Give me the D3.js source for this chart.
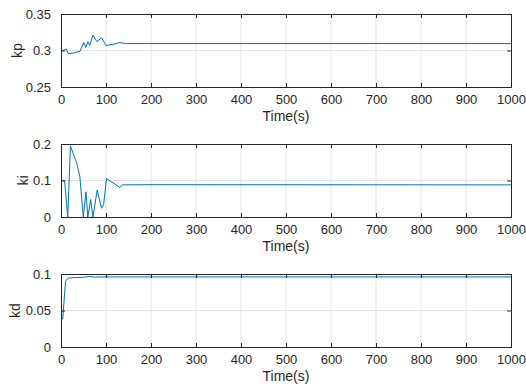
<!DOCTYPE html>
<html>
<head>
<meta charset="utf-8">
<script src="https://cdn.jsdelivr.net/npm/d3@7"></script>
<style>
  body { margin: 0; background: #fff; }
  text { font-family: "Liberation Sans", Arial, sans-serif; fill: #262626; }
</style>
</head>
<body>
<div id="chart"></div>
<script>
// time axis ticks shared by all panels
const xTicks = [0, 100, 200, 300, 400, 500, 600, 700, 800, 900, 1000]

// kp gain over time
const kpTime  = [0, 5, 12, 16, 28, 42, 51, 55, 60, 64, 71, 80, 90, 100, 109, 120, 131, 143, 200, 1000]
const kpValue = [0.300, 0.3003, 0.302, 0.2956, 0.2965, 0.299, 0.311, 0.304, 0.312, 0.307, 0.321, 0.312, 0.3175, 0.307, 0.3078, 0.309, 0.311, 0.3095, 0.3095, 0.3095]

// ki gain over time
const kiTime  = [0, 8, 15, 21, 27, 35, 42, 49.6, 55.5, 59.5, 66, 71, 80.5, 90, 95, 101, 131, 137, 200, 1000]
const kiValue = [0.100, 0.100, 0, 0.195, 0.174, 0.147, 0.11, 0, 0.069, 0, 0.048, 0, 0.074, 0.024, 0.036, 0.105, 0.081, 0.088, 0.0885, 0.088]

// kd gain over time
const kdTime  = [0, 4, 10, 16, 27, 50, 64, 75, 100, 1000]
const kdValue = [0.039, 0.039, 0.090, 0.0945, 0.095, 0.0955, 0.0966, 0.0958, 0.096, 0.096]

const panels = [
  { label: "kp", t: kpTime, v: kpValue, domain: [0.25, 0.35], ticks: [0.25, 0.3, 0.35], top: 14, labelX: 17 },
  { label: "ki", t: kiTime, v: kiValue, domain: [0, 0.2], ticks: [0, 0.1, 0.2], top: 144, labelX: 23 },
  { label: "kd", t: kdTime, v: kdValue, domain: [0, 0.1], ticks: [0, 0.05, 0.1], top: 274, labelX: 15 }
]

const width = 526, height = 390
const left = 61, right = 511, plotH = 73

const svg = d3.select("#chart").append("svg")
  .attr("width", width)
  .attr("height", height)

const x = d3.scaleLinear().domain([0, 1000]).range([left, right])
const fmt = d => String(+d.toFixed(3))

panels.forEach(function(p) {
  let y = d3.scaleLinear().domain(p.domain).range([p.top + plotH, p.top])
  let g = svg.append("g")

  // grid
  g.selectAll(".vgrid").data(xTicks.slice(1, -1)).enter().append("line")
    .attr("x1", d => x(d)).attr("x2", d => x(d))
    .attr("y1", p.top).attr("y2", p.top + plotH)
    .style("stroke", "#e3e3e3").style("stroke-width", 1)
  g.selectAll(".hgrid").data(p.ticks.slice(1, -1)).enter().append("line")
    .attr("x1", left).attr("x2", right)
    .attr("y1", d => y(d)).attr("y2", d => y(d))
    .style("stroke", "#e3e3e3").style("stroke-width", 1)

  // data line
  let line = d3.line().x((d, i) => x(p.t[i])).y(d => y(d))
  g.append("path")
    .datum(p.v)
    .attr("d", line)
    .style("fill", "none")
    .style("stroke", "#0072BD")
    .style("stroke-width", 1)

  // axes
  let xb = d3.axisBottom(x).tickValues(xTicks).tickSize(-4).tickPadding(8).tickFormat(d3.format("d"))
  let xt = d3.axisTop(x).tickValues(xTicks).tickSize(-4).tickFormat("")
  let yl = d3.axisLeft(y).tickValues(p.ticks).tickSize(-4).tickPadding(10).tickFormat(fmt)
  let yr = d3.axisRight(y).tickValues(p.ticks).tickSize(-4).tickFormat("")

  let axes = [
    g.append("g").attr("transform", `translate(0, ${p.top + plotH})`).call(xb),
    g.append("g").attr("transform", `translate(0, ${p.top})`).call(xt),
    g.append("g").attr("transform", `translate(${left}, 0)`).call(yl),
    g.append("g").attr("transform", `translate(${right}, 0)`).call(yr)
  ]
  axes.forEach(function(a) {
    a.selectAll("path").style("stroke", "#262626").style("stroke-width", 1)
    a.selectAll("line").style("stroke", "#262626").style("stroke-width", 1)
    a.selectAll("text").style("font-size", "13px").style("fill", "#262626")
  })

  // labels
  g.append("text")
    .attr("x", (left + right) / 2)
    .attr("y", p.top + plotH + 34)
    .style("text-anchor", "middle")
    .style("font-size", "14px")
    .text("Time(s)")

  g.append("text")
    .attr("transform", `translate(${p.labelX}, ${p.top + plotH / 2}) rotate(-90)`)
    .style("text-anchor", "middle")
    .attr("dy", "0.35em")
    .style("font-size", "14px")
    .text(p.label)
})
</script>
</body>
</html>
